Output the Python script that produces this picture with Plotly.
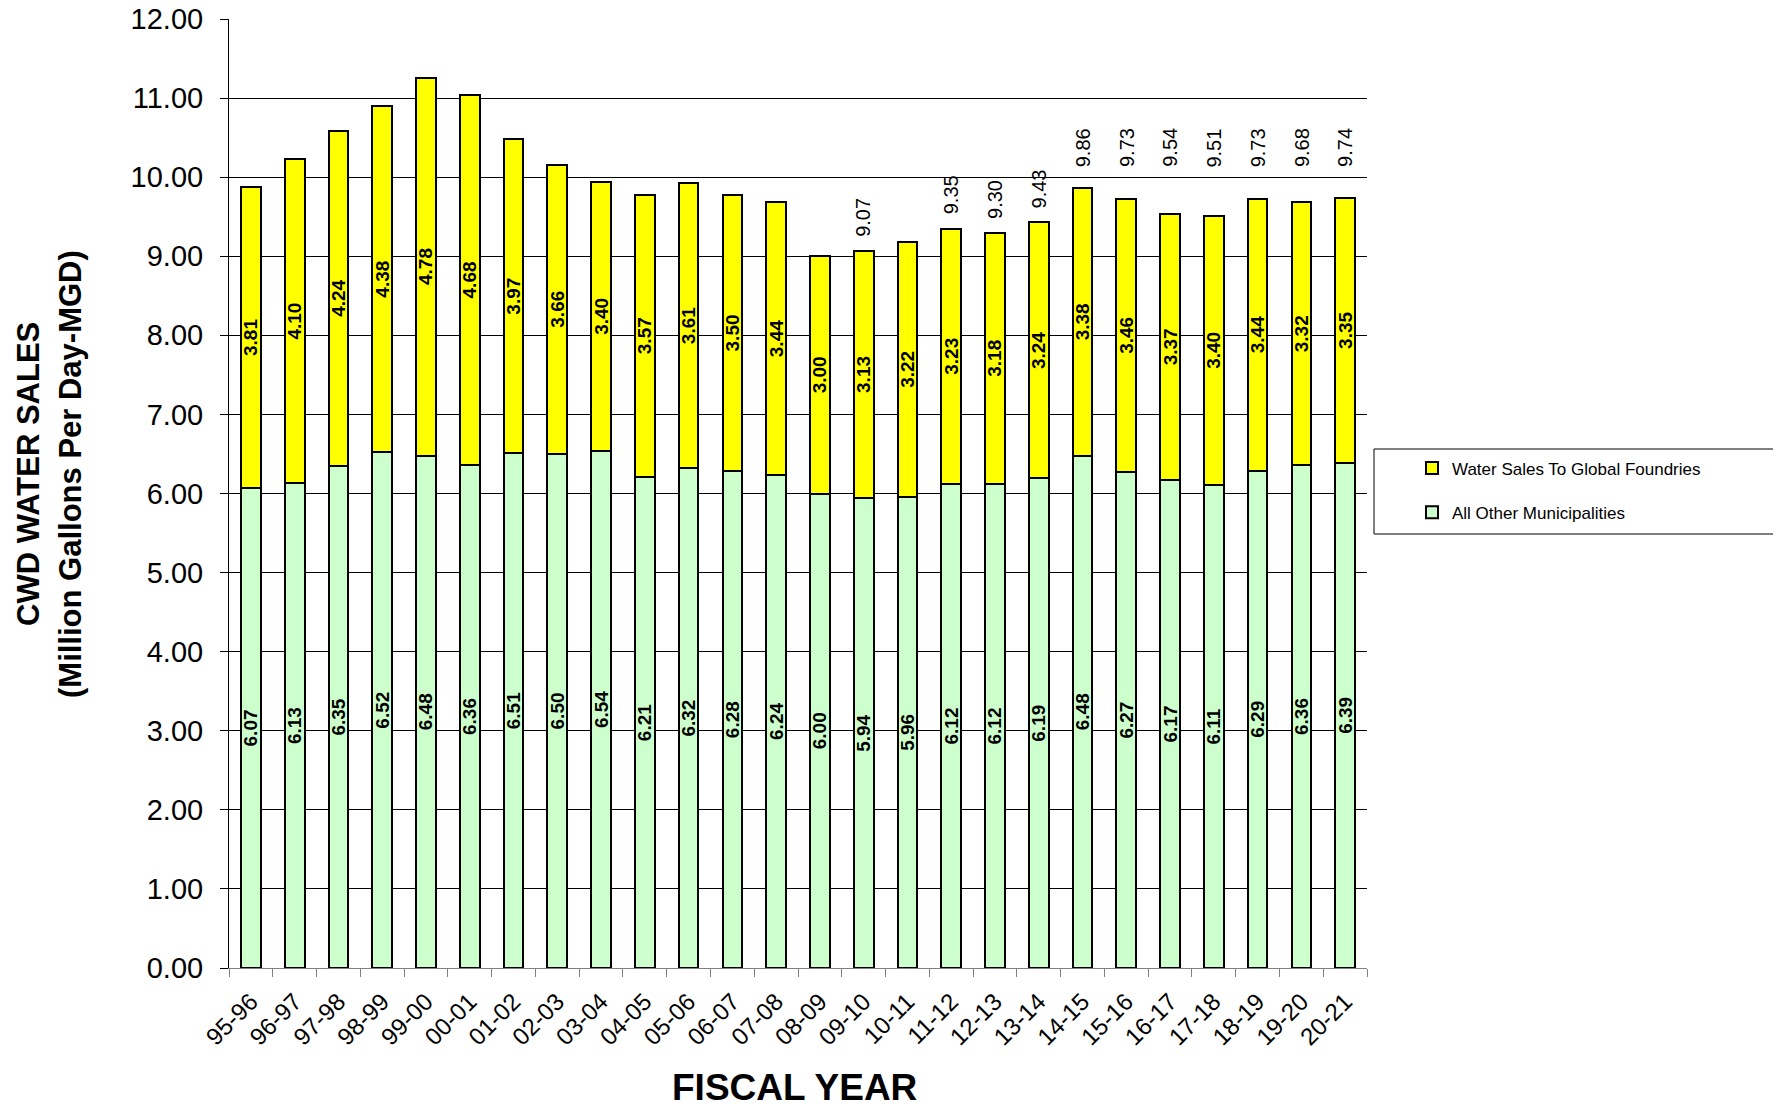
import plotly.graph_objects as go

# ---------------- data ----------------
fiscal_years = ["95-96", "96-97", "97-98", "98-99", "99-00", "00-01", "01-02", "02-03",
                "03-04", "04-05", "05-06", "06-07", "07-08", "08-09", "09-10", "10-11",
                "11-12", "12-13", "13-14", "14-15", "15-16", "16-17", "17-18", "18-19",
                "19-20", "20-21"]
other_municipalities = [6.07, 6.13, 6.35, 6.52, 6.48, 6.36, 6.51, 6.50, 6.54, 6.21, 6.32,
                        6.28, 6.24, 6.00, 5.94, 5.96, 6.12, 6.12, 6.19, 6.48, 6.27, 6.17,
                        6.11, 6.29, 6.36, 6.39]
global_foundries = [3.81, 4.10, 4.24, 4.38, 4.78, 4.68, 3.97, 3.66, 3.40, 3.57, 3.61,
                    3.50, 3.44, 3.00, 3.13, 3.22, 3.23, 3.18, 3.24, 3.38, 3.46, 3.37,
                    3.40, 3.44, 3.32, 3.35]
# categories that carry a total label above the bar
total_labeled = ["09-10", "11-12", "12-13", "13-14"]
# categories whose total label sits in the row above the 10.00 gridline
total_row_labeled = ["14-15", "15-16", "16-17", "17-18", "18-19", "19-20", "20-21"]
y_tick_values = list(range(0, 13))

totals = [round(a + b, 2) for a, b in zip(other_municipalities, global_foundries)]

FONT = "Arial, Liberation Sans, sans-serif"
NARROW = "Liberation Sans Narrow, Arial Narrow, Arial, Liberation Sans, sans-serif"

# plot area in pixels
L, R, T, B = 229, 1367, 19, 968
W, H = R - L, B - T


def px_x(x):
    return (x - L) / W


def px_y(y):
    return (B - y) / H


fig = go.Figure()
fig.add_trace(go.Bar(
    x=fiscal_years, y=other_municipalities, name="All Other Municipalities",
    legendgroup="g2", legendrank=2,
    marker=dict(color="#CCFFCC", line=dict(color="black", width=2)),
    text=[f"{v:.2f}" for v in other_municipalities], textposition="inside",
    insidetextanchor="middle", textangle=-90, constraintext="none",
    textfont=dict(family=NARROW, size=19, color="black", weight="bold"),
    hoverinfo="x+y",
))
fig.add_trace(go.Bar(
    x=fiscal_years, y=global_foundries, name="Water Sales To Global Foundries",
    legendgroup="g1", legendrank=1,
    marker=dict(color="#FFFF00", line=dict(color="black", width=2)),
    text=[f"{v:.2f}" for v in global_foundries], textposition="inside",
    insidetextanchor="middle", textangle=-90, constraintext="none",
    textfont=dict(family=NARROW, size=19, color="black", weight="bold"),
    hoverinfo="x+y",
))

annotations = []
for cat, tot in zip(fiscal_years, totals):
    if cat in total_labeled:
        annotations.append(dict(x=cat, y=tot, xref="x", yref="y", text=f"{tot:.2f}",
                                textangle=-90, showarrow=False, yanchor="bottom",
                                yshift=12, font=dict(family=FONT, size=20, color="black")))
    elif cat in total_row_labeled:
        annotations.append(dict(x=cat, y=10.10, xref="x", yref="y", text=f"{tot:.2f}",
                                textangle=-90, showarrow=False, yanchor="bottom",
                                font=dict(family=FONT, size=20, color="black")))

# axis titles
annotations.append(dict(x=px_x(28), y=px_y(474), xref="paper", yref="paper",
                        text="CWD WATER SALES", textangle=-90, showarrow=False,
                        xanchor="center", yanchor="middle",
                        font=dict(family=FONT, size=31, color="black", weight="bold")))
annotations.append(dict(x=px_x(70), y=px_y(474), xref="paper", yref="paper",
                        text="(Million Gallons Per Day-MGD)", textangle=-90, showarrow=False,
                        xanchor="center", yanchor="middle",
                        font=dict(family=FONT, size=31, color="black", weight="bold")))
annotations.append(dict(x=0.497, y=px_y(1087), xref="paper", yref="paper",
                        text="FISCAL YEAR", showarrow=False,
                        xanchor="center", yanchor="middle",
                        font=dict(family=FONT, size=37, color="black", weight="bold")))

shapes = [dict(type="rect", xref="paper", yref="paper",
               x0=px_x(1374), x1=px_x(1800), y0=px_y(534), y1=px_y(449),
               line=dict(color="black", width=1), fillcolor="rgba(0,0,0,0)")]

fig.update_layout(
    width=1773, height=1111,
    margin=dict(l=L, r=1773 - R, t=T, b=1111 - B, autoexpand=False),
    paper_bgcolor="white", plot_bgcolor="white",
    barmode="stack", bargap=0.55,
    font=dict(family=FONT, color="black"),
    uniformtext=dict(minsize=19, mode="show"),
    showlegend=True,
    legend=dict(x=px_x(1412), y=px_y(490.5), xanchor="left", yanchor="middle",
                traceorder="grouped", tracegroupgap=19,
                font=dict(family=FONT, size=17, color="black"),
                bgcolor="rgba(0,0,0,0)", borderwidth=0),
    annotations=annotations,
    shapes=shapes,
    xaxis=dict(type="category", showline=True, linecolor="#808080", linewidth=1,
               ticks="outside", tickson="boundaries", ticklen=8, tickcolor="#808080",
               tickwidth=1, tickangle=-45, showgrid=False, zeroline=False,
               tickfont=dict(family=FONT, size=24, color="black"),
               ticklabelstandoff=9),
    yaxis=dict(range=[0, 12], tickvals=y_tick_values,
               ticktext=[f"{v:.2f}" for v in y_tick_values],
               showline=True, linecolor="black", linewidth=1,
               ticks="outside", ticklen=8, tickcolor="black", tickwidth=1,
               showgrid=True, gridcolor="black", gridwidth=1, zeroline=False,
               tickfont=dict(family=FONT, size=29, color="black"),
               ticklabelstandoff=11),
)

fig.write_html("out.html", config={"displayModeBar": False},
               post_script="document.body.style.margin='0px';document.body.style.overflow='hidden';")
